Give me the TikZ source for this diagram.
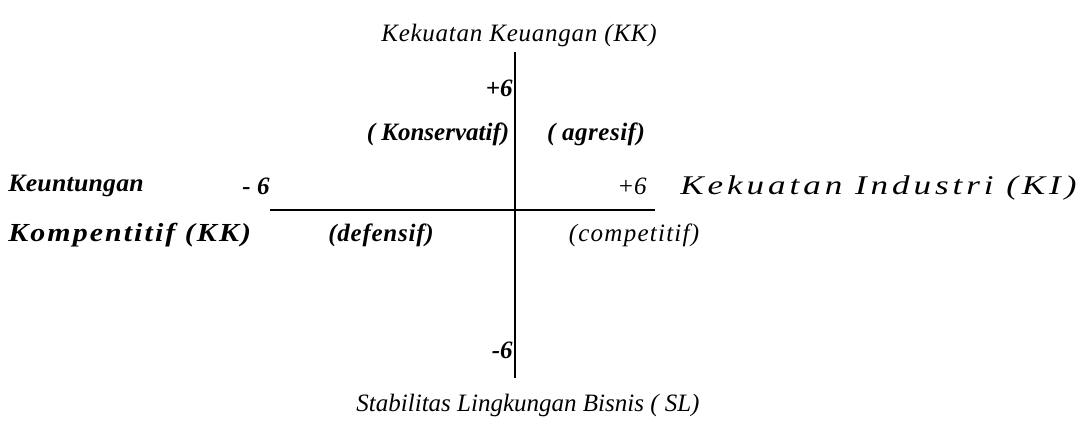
\documentclass[tikz,border=0pt]{standalone}
\usepackage{fontspec}
\setmainfont{Liberation Serif}
\usepackage{tikz}
\usetikzlibrary{positioning}
\newcommand{\spaced}[3]{{\addfontfeatures{FakeStretch=#1,LetterSpace=#2}#3}}

\begin{document}
\begin{tikzpicture}[x=0.5pt,y=-0.5pt,
lab/.style={font=\fontsize{12.5}{14}\selectfont\itshape,inner sep=0pt},
blab/.style={font=\fontsize{12.5}{14}\selectfont\bfseries\itshape,inner sep=0pt},
wlab/.style={font=\fontsize{13.5}{15}\selectfont\itshape,inner sep=0pt},
wblab/.style={font=\fontsize{13}{15}\selectfont\bfseries\itshape,inner sep=0pt},
axis/.style={line width=1pt}]
\useasboundingbox (0,0) rectangle (1081,428);
% axes
\coordinate (top) at (515,52);
\coordinate (bot) at (515,378);
\coordinate (lft) at (270,210);
\coordinate (rgt) at (655,210);
\draw[axis] (top)--(bot);
\draw[axis] (lft)--(rgt);
% axis titles
\node[lab] (kk) at (519,35) {\spaced{1}{3}{Kekuatan Keuangan (KK)}};
\node[lab] (sl) at (528,405) {Stabilitas Lingkungan Bisnis ( SL)};
\node[wlab,anchor=west] (ki) at (680,188) {\spaced{1.3}{14.5}{Kekuatan Industri (KI)}};
\node[blab,anchor=west] (ku) at (8,186) {\spaced{1.03}{1}{Keuntungan}};
\node[wblab,anchor=west] (kp) at (8,235) {\spaced{1.15}{8}{Kompentitif (KK)}};
% scale marks
\node[blab,anchor=east] (ptop) at (513,88) {+6};
\node[blab,anchor=east] (mbot) at (513,350) {-6};
\node[blab] (mlft) at (256,186) {- 6};
\node[lab] (prgt) at (632,186) {+6};
% quadrants
\node[blab] (kons) at (438,134) {( Konservatif)};
\node[blab] (agr) at (596,134) {\spaced{1}{2}{( agresif)}};
\node[blab] (def) at (381,235) {\spaced{1}{3}{(defensif)}};
\node[lab] (comp) at (634,235) {\spaced{1}{5}{(competitif)}};
\end{tikzpicture}
\end{document}
